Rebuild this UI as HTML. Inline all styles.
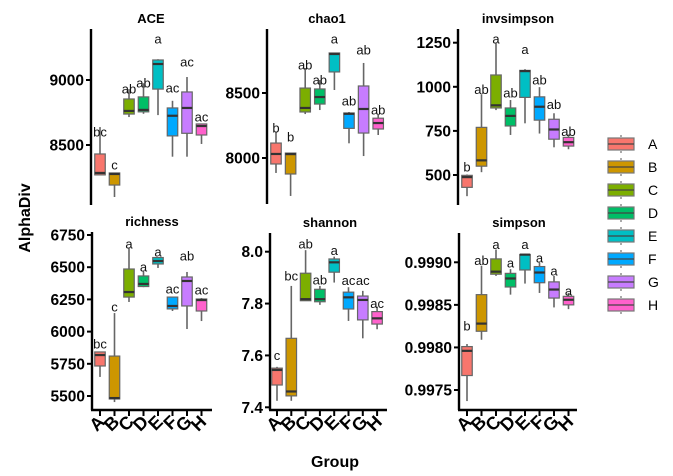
<!DOCTYPE html>
<html><head><meta charset="utf-8">
<style>
html,body{margin:0;padding:0;background:#fff;}
svg{display:block;font-family:"Liberation Sans",Arial,sans-serif;}
</style></head>
<body>
<svg id="chart" width="673" height="476" viewBox="0 0 673 476" xmlns="http://www.w3.org/2000/svg">
<text x="0" y="0" transform="translate(30,218) rotate(-90)" text-anchor="middle" font-size="16" font-weight="bold">AlphaDiv</text>
<text x="335" y="467" text-anchor="middle" font-size="16" font-weight="bold">Group</text>
</svg>
<script>
const groups = ["A","B","C","D","E","F","G","H"];
const colors = ["#F8766D","#CD9600","#7CAE00","#00BE67","#00BFC4","#00A9FF","#C77CFF","#FF61CC"];

const aceLo  = [8270,8100,8715,8740,8730,8410,8410,8508];
const aceQ1  = [8270,8192,8738,8755,8930,8570,8590,8577];
const aceMed = [8285,8277,8762,8770,9123,8725,8785,8646];
const aceQ3  = [8431,8285,8854,8870,9154,8785,8908,8662];
const aceHi  = [8638,8285,8930,8975,9160,8840,9023,8662];
const aceLetters = ["bc","c","ab","ab","a","ac","ac","ac"];
const aceLetterY = [8600,8346,8930,8977,9315,8938,9138,8715];
const aceTicks = [8500,9000];

const chaoLo  = [7885,7708,8338,8369,8523,8113,8015,8177];
const chaoQ1  = [7954,7877,8354,8415,8662,8228,8192,8223];
const chaoMed = [8031,8030,8385,8469,8800,8340,8377,8269];
const chaoQ3  = [8115,8038,8538,8531,8808,8346,8554,8306];
const chaoHi  = [8200,8038,8692,8600,8808,8354,8731,8338];
const chaoLetters = ["b","b","ab","ab","a","ab","ab","ab"];
const chaoLetterY = [8231,8162,8715,8600,8915,8438,8831,8369];
const chaoTicks = [8000,8500];

const invLo  = [380,516,868,727,793,735,657,646];
const invQ1  = [430,550,880,778,940,811,703,664];
const invMed = [488,583,895,835,1089,887,758,686];
const invQ3  = [498,770,1067,880,1093,943,816,713];
const invHi  = [503,958,1248,925,1100,998,850,730];
const invLetters = ["b","ab","a","ab","a","ab","ab","ab"];
const invLetterY = [545,985,1270,965,1212,1038,900,748];
const invTicks = [500,750,1000,1250];

const richLo  = [5648,5453,6230,6345,6494,6160,6020,6082];
const richQ1  = [5733,5477,6268,6350,6525,6176,6199,6160];
const richMed = [5818,5484,6307,6370,6548,6199,6393,6245];
const richQ3  = [5842,5810,6486,6432,6575,6268,6424,6253];
const richHi  = [5842,6144,6649,6470,6579,6268,6463,6261];
const richLetters = ["bc","c","a","a","a","ac","ab","ac"];
const richLetterY = [5904,6191,6680,6502,6618,6331,6587,6323];
const richTicks = [5500,5750,6000,6250,6500,6750];

const shanLo  = [7.425,7.425,7.811,7.795,7.881,7.733,7.666,7.701];
const shanQ1  = [7.486,7.444,7.811,7.807,7.921,7.779,7.737,7.721];
const shanMed = [7.544,7.461,7.817,7.817,7.959,7.824,7.814,7.743];
const shanQ3  = [7.551,7.666,7.917,7.855,7.972,7.844,7.829,7.769];
const shanHi  = [7.556,7.868,8.006,7.868,7.981,7.863,7.849,7.788];
const shanLetters = ["c","bc","ab","ab","a","ac","ac","ac"];
const shanLetterY = [7.60,7.906,8.03,7.89,8.004,7.888,7.888,7.80];
const shanTicks = [7.4,7.6,7.8,8.0];

const simpLo  = [0.99737,0.99809,0.99884,0.99862,0.99875,0.99864,0.99847,0.99845];
const simpQ1  = [0.99767,0.99819,0.99886,0.99871,0.99891,0.99876,0.99858,0.99850];
const simpMed = [0.99796,0.99828,0.99889,0.99881,0.99909,0.99888,0.99868,0.99856];
const simpQ3  = [0.99801,0.99862,0.99904,0.99887,0.99909,0.99895,0.99877,0.99860];
const simpHi  = [0.99804,0.99896,0.99915,0.99892,0.99910,0.99900,0.99884,0.99864];
const simpLetters = ["b","ab","a","a","a","a","a","a"];
const simpLetterY = [0.99825,0.99902,0.99921,0.99899,0.99921,0.99905,0.9989,0.99866];
const simpTicks = [0.9975,0.9980,0.9985,0.9990];

const NS = "http://www.w3.org/2000/svg";
const svg = document.getElementById("chart");
function mk(tag, attrs, parent){
  const e = document.createElementNS(NS, tag);
  for (const k in attrs) e.setAttribute(k, attrs[k]);
  (parent||svg).appendChild(e);
  return e;
}

function panel(cfg){
  const g = mk("g", {});
  
  
  const y = v => cfg.p0 + (v - cfg.v0) * (cfg.p1 - cfg.p0) / (cfg.v1 - cfg.v0);
  const x = i => cfg.gx0 + i * cfg.gdx;
  const t = mk("text", {x: cfg.ax + 60, y: cfg.top - 6, "text-anchor":"middle", "font-size":13, "font-weight":"bold"}, g);
  t.textContent = cfg.name;
  
  
  const axis = mk("line", {x1: cfg.ax, x2: cfg.ax, y1: cfg.top, y2: cfg.bottom, stroke:"#000", "stroke-width":2.4}, g);
  
  
  cfg.ticks.forEach(v => {
    const py = y(v);
    mk("line", {x1: cfg.ax - 5, x2: cfg.ax, y1: py, y2: py, stroke:"#000", "stroke-width":2}, g);
    const tl = mk("text", {x: cfg.ax - 7, y: py + 5.5, "text-anchor":"end", "font-size":15.5, "font-weight":"bold"}, g);
    tl.textContent = v.toFixed(cfg.dec);
    
    
  });
  if (cfg.showX){
    const xa = mk("line", {x1: cfg.ax - 1, x2: cfg.xend, y1: cfg.bottom, y2: cfg.bottom, stroke:"#000", "stroke-width":2.4}, g);
    
    
    groups.forEach((gr, i) => {
      mk("line", {x1: x(i), x2: x(i), y1: cfg.bottom, y2: cfg.bottom + 6, stroke:"#000", "stroke-width":2}, g);
      const xl = mk("text", {x: 0, y: 0, transform: `translate(${x(i)+6},${cfg.bottom+13}) rotate(-45)`, "text-anchor":"end", "font-size":18, "font-weight":"bold"}, g);
      xl.textContent = gr;
      
      
    });
  }
  const w = 10.5;
  groups.forEach((gr, i) => {
    const bx = x(i);
    const bg = mk("g", {}, g);
    
    
    mk("line", {x1: bx, x2: bx, y1: y(cfg.hi[i]), y2: y(cfg.lo[i]), stroke:"#666", "stroke-width":1.6}, bg);
    mk("rect", {x: bx - w/2, y: y(cfg.q3[i]), width: w, height: Math.max(1, y(cfg.q1[i]) - y(cfg.q3[i])), fill: colors[i], stroke:"#666", "stroke-width":1.2}, bg);
    mk("line", {x1: bx - w/2, x2: bx + w/2, y1: y(cfg.med[i]), y2: y(cfg.med[i]), stroke:"#333", "stroke-width":2.2}, bg);
    const lt = mk("text", {x: bx, y: y(cfg.ly[i]) + 4.5, "text-anchor":"middle", "font-size":13, fill:"#111"}, g);
    lt.textContent = cfg.letters[i];
    
    
  });
}

panel({name:"ACE", ax:91, gx0:100, gdx:14.5, top:29, bottom:205, v0:9000, p0:80, v1:8500, p1:145, ticks:aceTicks, dec:0, showX:false,
  lo:aceLo, q1:aceQ1, med:aceMed, q3:aceQ3, hi:aceHi, letters:aceLetters, ly:aceLetterY});
panel({name:"chao1", ax:267, gx0:276, gdx:14.6, top:29, bottom:204, v0:8500, p0:93, v1:8000, p1:158, ticks:chaoTicks, dec:0, showX:false,
  lo:chaoLo, q1:chaoQ1, med:chaoMed, q3:chaoQ3, hi:chaoHi, letters:chaoLetters, ly:chaoLetterY});
panel({name:"invsimpson", ax:458, gx0:467, gdx:14.5, top:29, bottom:205, v0:1250, p0:42.7, v1:500, p1:175, ticks:invTicks, dec:0, showX:false,
  lo:invLo, q1:invQ1, med:invMed, q3:invQ3, hi:invHi, letters:invLetters, ly:invLetterY});
panel({name:"richness", ax:92, gx0:100, gdx:14.5, top:232, bottom:410, xend:212, v0:6750, p0:235, v1:5500, p1:396, ticks:richTicks, dec:0, showX:true,
  lo:richLo, q1:richQ1, med:richMed, q3:richQ3, hi:richHi, letters:richLetters, ly:richLetterY});
panel({name:"shannon", ax:270, gx0:277, gdx:14.3, top:233, bottom:410, xend:387, v0:8.0, p0:251.7, v1:7.4, p1:407.3, ticks:shanTicks, dec:1, showX:true,
  lo:shanLo, q1:shanQ1, med:shanMed, q3:shanQ3, hi:shanHi, letters:shanLetters, ly:shanLetterY});
panel({name:"simpson", ax:459, gx0:467, gdx:14.5, top:233, bottom:410, xend:577, v0:0.9990, p0:262.3, v1:0.9975, p1:390, ticks:simpTicks, dec:4, showX:true,
  lo:simpLo, q1:simpQ1, med:simpMed, q3:simpQ3, hi:simpHi, letters:simpLetters, ly:simpLetterY});

// legend
const leg = mk("g", {});


groups.forEach((gr, i) => {
  const cy = 144 + i * 23;
  const e = mk("g", {}, leg);
  
  
  mk("line", {x1: 621, x2: 621, y1: cy - 9, y2: cy + 9, stroke:"#555", "stroke-width":1, "stroke-dasharray":"2,2"}, e);
  mk("rect", {x: 608, y: cy - 6, width: 26, height: 12, fill: colors[i], stroke:"#777", "stroke-width":1.2}, e);
  mk("line", {x1: 608, x2: 634, y1: cy, y2: cy, stroke:"#444", "stroke-width":1.2}, e);
  const lt = mk("text", {x: 648, y: cy + 5, "font-size":14}, e);
  lt.textContent = gr;
  
  
});
</script>
</body></html>
